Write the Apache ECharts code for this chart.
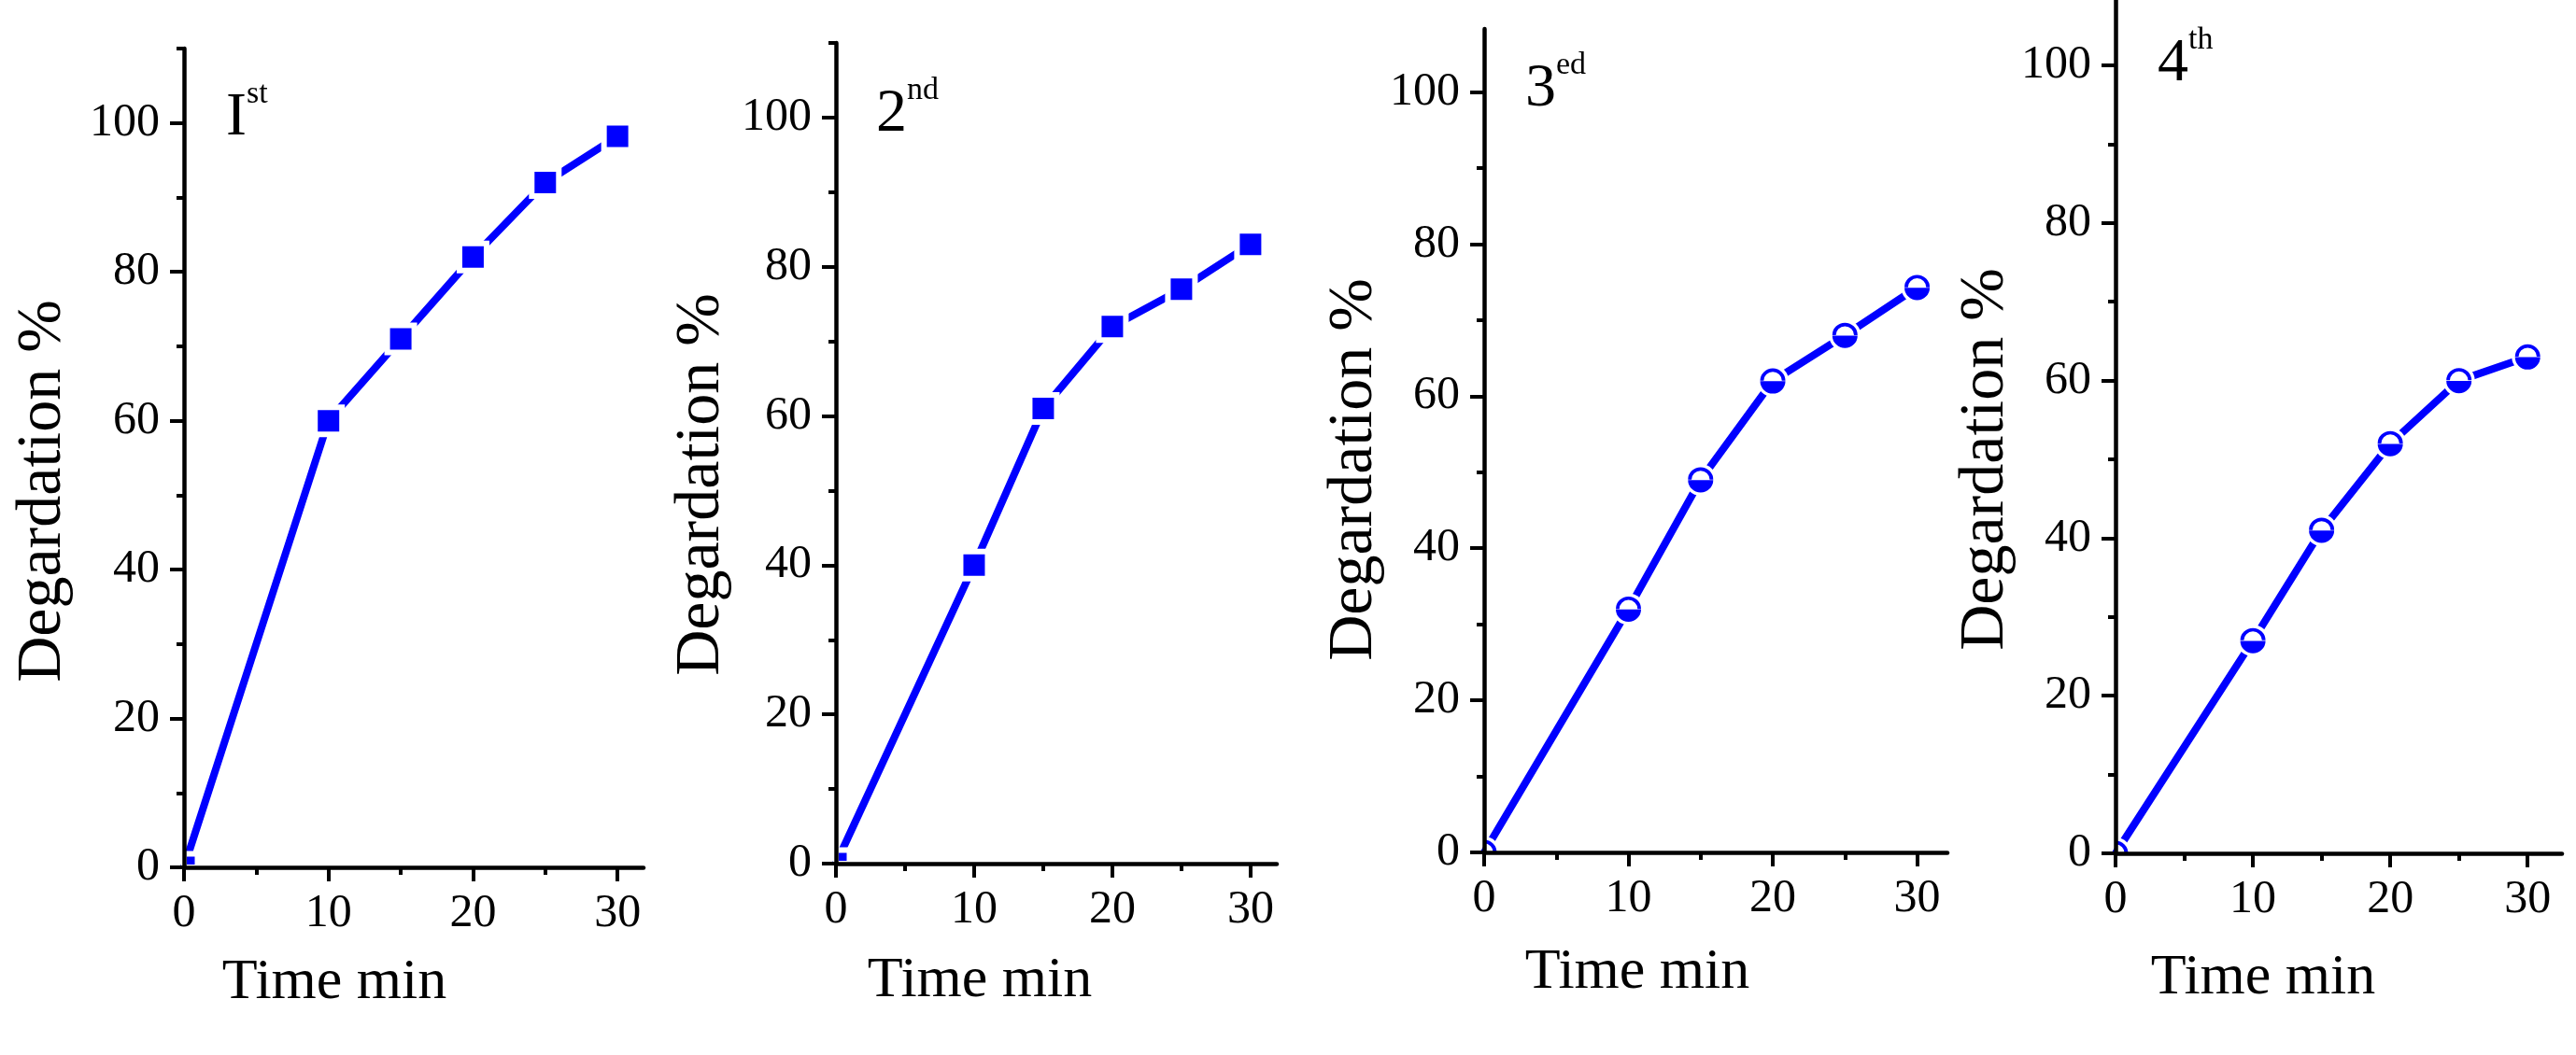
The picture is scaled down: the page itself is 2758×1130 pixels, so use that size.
<!DOCTYPE html>
<html>
<head>
<meta charset="utf-8">
<script src="https://cdn.jsdelivr.net/npm/echarts@6/dist/echarts.min.js"></script>
<style>
html,body{margin:0;padding:0;background:#fff;}
#chart{width:2758px;height:1130px;}
</style>
</head>
<body>
<div id="chart"></div>
<script>
// ---------- data ----------
const timeMin = [0, 10, 15, 20, 25, 30];
const run1st = [0, 60, 71, 82, 92, 98.2];
const run2nd = [0, 40, 61, 72, 77, 83];
const run3rd = [0, 32, 49, 62, 68, 74.3];
const run4th = [0, 27, 41, 52, 60, 63];
const runNames = [['I', 'st'], ['2', 'nd'], ['3', 'ed'], ['4', 'th']];
const xMajorTicks = [0, 10, 20, 30];
const xMinorTicks = [5, 15, 25];
const yMajorTicks = [0, 20, 40, 60, 80, 100];
const yMinorTicks = [10, 30, 50, 70, 90, 110];
const xTitle = 'Time min';
const yTitle = 'Degardation %';

// ---------- styling / layout ----------
const FONT = "'Liberation Serif','Times New Roman',serif";
const BLUE = '#0000ff';
const runs = [run1st, run2nd, run3rd, run4th];

const SQUARE_ORIGIN = 'path://M0 0 M100 100 M50 0 L100 0 L100 50 L50 50 Z';
// half-filled circle: thin upper arch + filled lower half disk (no holes needed)
const HALF_CIRCLE = 'path://M0 50 A50 50 0 0 1 100 50 L86 50 A36 36 0 0 0 14 50 Z M0 52 A50 50 0 0 0 100 52 Z';
const HALF_CIRCLE_ORIGIN = 'path://M0 0 M100 100 M50 0 A50 50 0 0 1 100 50 L86 50 A36 36 0 0 0 50 14 Z';
const WHITE_ORIGIN = 'path://M0 0 M100 100 M50 0 A50 50 0 0 1 100 50 L50 50 Z';

const panels = [
  {left:197, top:52, width:492, height:877, xMax:31.8, yMax:110, circles:false,
   yGap:117, yPad:71, xGap:93, xPad:170, labLeft:242, labTop:84},
  {left:895, top:46, width:472, height:879, xMax:31.9, yMax:110, circles:false,
   yGap:110, yPad:67, xGap:95, xPad:164, labLeft:938, labTop:80},
  {left:1589, top:31, width:496, height:882, xMax:32.1, yMax:108.3, circles:true,
   yGap:95, yPad:62, xGap:98, xPad:168, labLeft:1633, labTop:53},
  {left:2265, top:0, width:478, height:914, xMax:32.5, yMax:108.3, circles:true,
   yGap:88, yPad:70, xGap:103, xPad:162, labLeft:2310, labTop:26}
];

const axisLineStyle = {color:'#000', width:4.5};
const tickLineStyle = {color:'#000', width:4};
const labelStyle = {color:'#000', fontFamily:FONT, fontSize:50, fontWeight:'normal'};

const grid = [], xAxis = [], yAxis = [], series = [], title = [];

panels.forEach((p, i) => {
  grid.push({left:p.left, top:p.top, width:p.width, height:p.height, containLabel:false, outerBoundsMode:'none'});
  xAxis.push({
    type:'value', gridIndex:i, min:0, max:p.xMax, position:'bottom', z:6,
    axisLine:{show:true, onZero:false, lineStyle:axisLineStyle},
    axisTick:{show:true, customValues:xMajorTicks, length:15, lineStyle:tickLineStyle},
    axisLabel:{show:true, customValues:xMajorTicks, margin:25, ...labelStyle},
    splitLine:{show:false},
    name:xTitle, nameLocation:'middle', nameGap:p.xGap,
    nameTextStyle:{color:'#000', fontFamily:FONT, fontSize:62, fontWeight:'normal', padding:[0, p.xPad, 0, 0]}
  });
  xAxis.push({
    type:'value', gridIndex:i, min:0, max:p.xMax, position:'bottom', z:6,
    axisLine:{show:false},
    axisTick:{show:true, customValues:xMinorTicks, length:8, lineStyle:tickLineStyle},
    axisLabel:{show:false}, splitLine:{show:false}
  });
  yAxis.push({
    type:'value', gridIndex:i, min:0, max:p.yMax, position:'left', z:6,
    axisLine:{show:true, onZero:false, lineStyle:axisLineStyle},
    axisTick:{show:true, customValues:yMajorTicks, length:15, lineStyle:tickLineStyle},
    axisLabel:{show:true, customValues:yMajorTicks, margin:26, ...labelStyle},
    splitLine:{show:false},
    name:yTitle, nameLocation:'middle', nameGap:p.yGap,
    nameTextStyle:{color:'#000', fontFamily:FONT, fontSize:68, fontWeight:'normal', padding:[0, p.yPad, 0, 0]}
  });
  yAxis.push({
    type:'value', gridIndex:i, min:0, max:p.yMax, position:'left', z:6,
    axisLine:{show:false},
    axisTick:{show:true, customValues:yMinorTicks.filter(v => v <= p.yMax), length:8, lineStyle:tickLineStyle},
    axisLabel:{show:false}, splitLine:{show:false}
  });

  const pts = timeMin.map((t, j) => [t, runs[i][j]]);
  if (!p.circles) {
    series.push({
      type:'line', name:runNames[i].join(''), xAxisIndex:2*i, yAxisIndex:2*i, z:3,
      clip:true, animation:false,
      symbol:'rect', symbolSize:29,
      lineStyle:{color:BLUE, width:8},
      itemStyle:{color:BLUE, borderColor:'#fff', borderWidth:6},
      emphasis:{disabled:true},
      data:pts.map((v, j) => j === 0 ? {value:v, symbol:SQUARE_ORIGIN} : v)
    });
  } else {
    // line with white discs that open a small gap round each marker
    series.push({
      type:'line', name:runNames[i].join(''), xAxisIndex:2*i, yAxisIndex:2*i, z:3,
      clip:true, animation:false,
      symbol:'circle', symbolSize:34,
      lineStyle:{color:BLUE, width:8},
      itemStyle:{color:'#fff', borderWidth:0},
      emphasis:{disabled:true},
      data:pts.map((v, j) => j === 0 ? {value:v, symbol:WHITE_ORIGIN} : v)
    });
    // half-filled circle markers
    series.push({
      type:'scatter', name:runNames[i].join('') + ' markers', xAxisIndex:2*i, yAxisIndex:2*i, z:4,
      clip:true, animation:false,
      symbol:HALF_CIRCLE, symbolSize:27,
      itemStyle:{color:BLUE, borderWidth:0, opacity:1},
      emphasis:{disabled:true},
      data:pts.map((v, j) => j === 0 ? {value:v, symbol:HALF_CIRCLE_ORIGIN} : v)
    });
  }
  title.push({
    text:'{m|' + runNames[i][0] + '}{s|' + runNames[i][1] + '}',
    left:p.labLeft, top:p.labTop, padding:0,
    textStyle:{
      fontWeight:'normal', fontFamily:FONT,
      rich:{
        m:{fontFamily:FONT, fontSize:66, fontWeight:'normal', color:'#000', verticalAlign:'top', padding:[10,0,0,0]},
        s:{fontFamily:FONT, fontSize:34, fontWeight:'normal', color:'#000', verticalAlign:'top'}
      }
    }
  });
});

const chart = echarts.init(document.getElementById('chart'), null, {renderer:'canvas'});
chart.setOption({
  backgroundColor:'#fff',
  animation:false,
  title, grid, xAxis, yAxis, series,
  tooltip:{show:false}
});
</script>
</body>
</html>
